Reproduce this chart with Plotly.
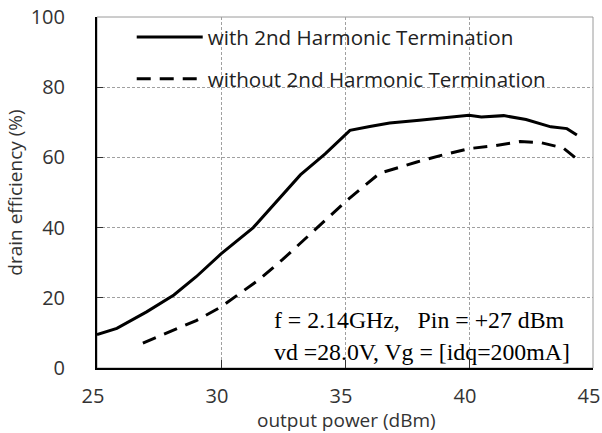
import plotly.graph_objects as go

# Data
x_with = [25.0, 25.8, 27.0, 28.1, 29.0, 30.0, 31.3, 32.2, 33.2, 34.2, 35.2, 36.0, 36.8, 38.0, 39.0, 40.0, 40.5, 41.4, 42.3, 43.3, 43.95, 44.35]
y_with = [9.5, 11.3, 16.0, 20.8, 26.0, 32.5, 40.0, 47.0, 55.0, 61.0, 67.7, 68.8, 69.8, 70.6, 71.3, 72.0, 71.5, 71.9, 70.8, 68.7, 68.2, 66.4]

x_without = [26.85, 28.0, 29.0, 30.0, 30.5, 31.5, 32.5, 33.9, 35.1, 36.4, 37.9, 39.0, 40.0, 41.0, 42.06, 42.9, 43.8, 44.55]
y_without = [7.1, 10.5, 13.5, 17.4, 20.0, 25.0, 31.0, 40.0, 47.9, 55.5, 58.7, 60.8, 62.5, 63.3, 64.5, 64.2, 62.7, 58.4]

x_ticks = [25, 30, 35, 40, 45]
y_ticks = [0, 20, 40, 60, 80, 100]

name_with = "with 2nd Harmonic Termination"
name_without = "without 2nd Harmonic Termination"
note_lines = ["f = 2.14GHz,&nbsp;&nbsp; Pin = +27 dBm", "vd =28.0V, Vg = [idq=200mA]"]
x_title = "output power (dBm)"
y_title = "drain efficiency (%)"

fig = go.Figure()
fig.add_trace(go.Scatter(x=x_with, y=y_with, mode="lines", name=name_with,
                         legendgroup="a",
                         line=dict(color="black", width=3)))
fig.add_trace(go.Scatter(x=x_without, y=y_without, mode="lines", name=name_without,
                         legendgroup="b",
                         line=dict(color="black", width=3, dash="14px,9px")))

fig.add_shape(type="rect", xref="paper", yref="paper", x0=0, y0=0, x1=1, y1=1,
              line=dict(color="#9a9a9a", width=1), layer="below")

fig.add_annotation(xref="paper", yref="paper", x=0.353, y=0.1365, xanchor="left", yanchor="middle",
                   text=note_lines[0], showarrow=False,
                   font=dict(family="Liberation Serif", size=23.8, color="black"))
fig.add_annotation(xref="paper", yref="paper", x=0.353, y=0.046, xanchor="left", yanchor="middle",
                   text=note_lines[1], showarrow=False,
                   font=dict(family="Liberation Serif", size=23.8, color="black"))
# x-axis title placed as an annotation below the tick labels
fig.add_annotation(xref="paper", yref="paper", x=0.503, y=-0.148, xanchor="center", yanchor="middle",
                   text=x_title, showarrow=False,
                   font=dict(family="Open Sans", size=19, color="#333"))

fig.update_layout(
    width=602, height=433,
    margin=dict(l=97, r=9, t=17, b=65, autoexpand=False),
    paper_bgcolor="white", plot_bgcolor="white",
    font=dict(family="Open Sans", color="#333333"),
    showlegend=True,
    legend=dict(x=0.07, y=1.0, xanchor="left", yanchor="top",
                bgcolor="rgba(0,0,0,0)", traceorder="grouped", tracegroupgap=12,
                font=dict(family="Open Sans", size=20.6, color="#222222"),
                itemwidth=66),
    xaxis=dict(range=[25, 45], tickvals=x_ticks, showgrid=True, automargin=False,
               gridcolor="#a0a0a0", griddash="3px,2px", gridwidth=1,
               showline=True, linecolor="black", linewidth=2,
               ticks="inside", ticklen=8, tickcolor="#333", tickwidth=1,
               ticklabelstandoff=9, ticklabeloverflow="allow", ticklabelshift=-4,
               tickfont=dict(size=20, color="#333"),
               zeroline=False),
    yaxis=dict(range=[0, 100], tickvals=y_ticks, showgrid=True, automargin=False,
               gridcolor="#a0a0a0", griddash="3px,2px", gridwidth=1,
               showline=True, linecolor="black", linewidth=2,
               ticks="inside", ticklen=6, tickcolor="#333", tickwidth=1,
               ticklabelstandoff=26,
               tickfont=dict(size=20, color="#333"),
               title=dict(text=y_title, font=dict(size=19, color="#333"), standoff=3),
               zeroline=False),
)

fig.write_html("out.html")
